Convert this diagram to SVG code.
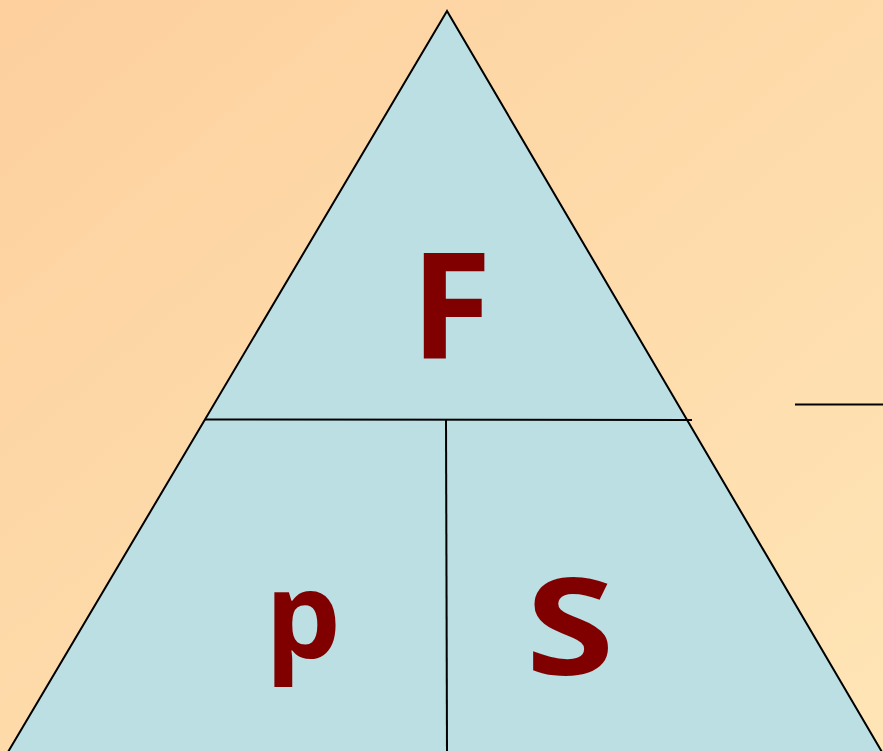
<svg xmlns="http://www.w3.org/2000/svg" width="883" height="751" viewBox="0 0 883 751">
<defs>
<linearGradient id="bg" x1="0" y1="0" x2="1" y2="1">
<stop offset="0" stop-color="#FDD09E"/>
<stop offset="1" stop-color="#FFE5B6"/>
</linearGradient>
</defs>
<style>
.ln{stroke:#000;stroke-width:2;fill:none}
.lt{font-family:"Open Sans","DejaVu Sans",sans-serif;font-weight:700;fill:#800000;text-anchor:middle}
</style>
<rect x="0" y="0" width="883" height="751" fill="url(#bg)"/>
<g id="triangle">
<polygon points="447,11 8,752 882,752" fill="#BBDFE3" stroke="#000" stroke-width="2"/>
</g>
<g id="connectors">
<line class="ln" x1="205" y1="419.5" x2="692" y2="420"/>
<line class="ln" x1="446" y1="420" x2="447" y2="751"/>
<line class="ln" x1="795" y1="404.5" x2="883" y2="404.5"/>
</g>
<g id="node-F"><text class="lt" x="451" y="359" font-size="148">F</text></g>
<g id="node-p"><text class="lt" x="303" y="658" font-size="120">p</text></g>
<g id="node-S"><text class="lt" transform="translate(570,675) scale(1.2,1)" x="0" y="0" font-size="134">S</text></g>
</svg>
